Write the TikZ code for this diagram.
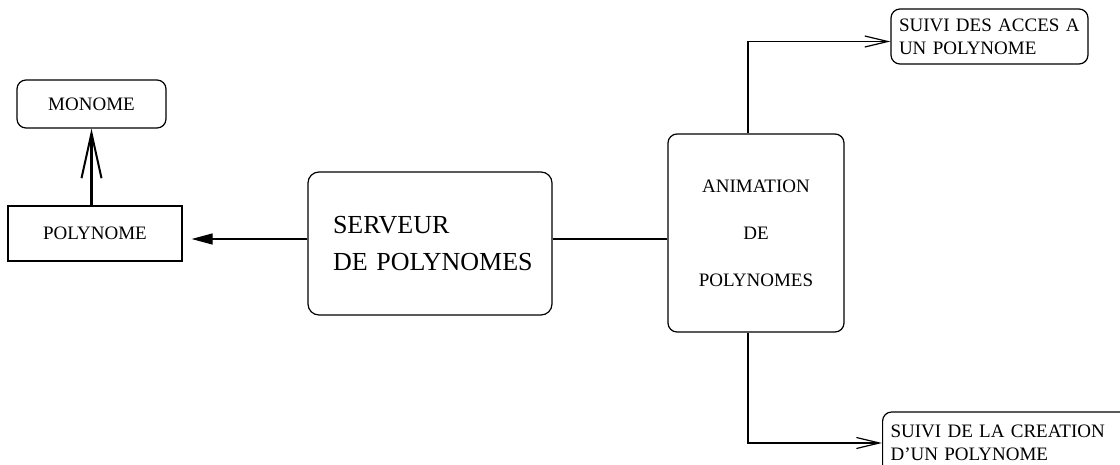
\documentclass[tikz,border=0pt]{standalone}
\usepackage{fontspec}
\setmainfont{Liberation Serif}
\usetikzlibrary{arrows.meta}
\tikzset{
  box/.style={draw, line width=1.2pt, inner sep=0pt, font=\fontsize{19}{23}\selectfont},
  rbox/.style={box, rounded corners=9pt},
  conn/.style={line width=1.2pt},
}
\begin{document}
\begin{tikzpicture}[x=1pt,y=-1pt]
\clip (0,0) rectangle (1120,464);
\fill[white] (0,0) rectangle (1120,464);
\node[rbox, minimum width=149pt, minimum height=48pt] (mono) at (91.5,104) {MONOME};
\node[box, minimum width=174pt, minimum height=55pt] (poly) at (95,233.5) {POLYNOME};
\node[rbox, rounded corners=11pt, minimum width=244pt, minimum height=143pt, text width=194pt, align=left,
  font=\fontsize{26}{37}\selectfont] (serv) at (430,243.5) {\mbox{SERVEUR}\\\mbox{DE POLYNOMES}};
\node[rbox, minimum width=176pt, minimum height=198pt, align=center,
  font=\fontsize{19}{47}\selectfont] (anim) at (756,233) {ANIMATION\\DE\\POLYNOMES};
\node[rbox, minimum width=197pt, minimum height=55pt, text width=181pt, align=left] (acces) at (989.5,36.5)
  {SUIVI DES ACCES A\\UN POLYNOME};
\node[rbox, minimum width=250pt, minimum height=62pt, text width=234pt, align=left, anchor=west] (creat) at (882,443)
  {SUIVI DE LA CREATION\\D'UN POLYNOME\\[4pt]};
% connectors
\draw[line width=2.2pt, -{Straight Barb[length=45pt,width=20pt,line width=2pt]}] (poly.north -| mono.south) -- (mono.south);
\coordinate (m) at ([yshift=4.5pt]serv.east);
\coordinate (mw) at ([yshift=4.5pt]serv.west);
\draw[conn] (m) -- (m -| anim.west);
\draw[conn, -{Triangle[length=21pt,width=11pt]}, shorten >=9pt] (mw) -- (mw -| poly.east);
\draw[conn, -{Straight Barb[length=23pt,width=11pt,line width=1.2pt]}] ([xshift=-8pt]anim.north) |- ([yshift=-5pt]acces.west);
\draw[conn, -{Straight Barb[length=23pt,width=11pt,line width=1.2pt]}] ([xshift=-8pt]anim.south) |- (creat.west);
\end{tikzpicture}
\end{document}
